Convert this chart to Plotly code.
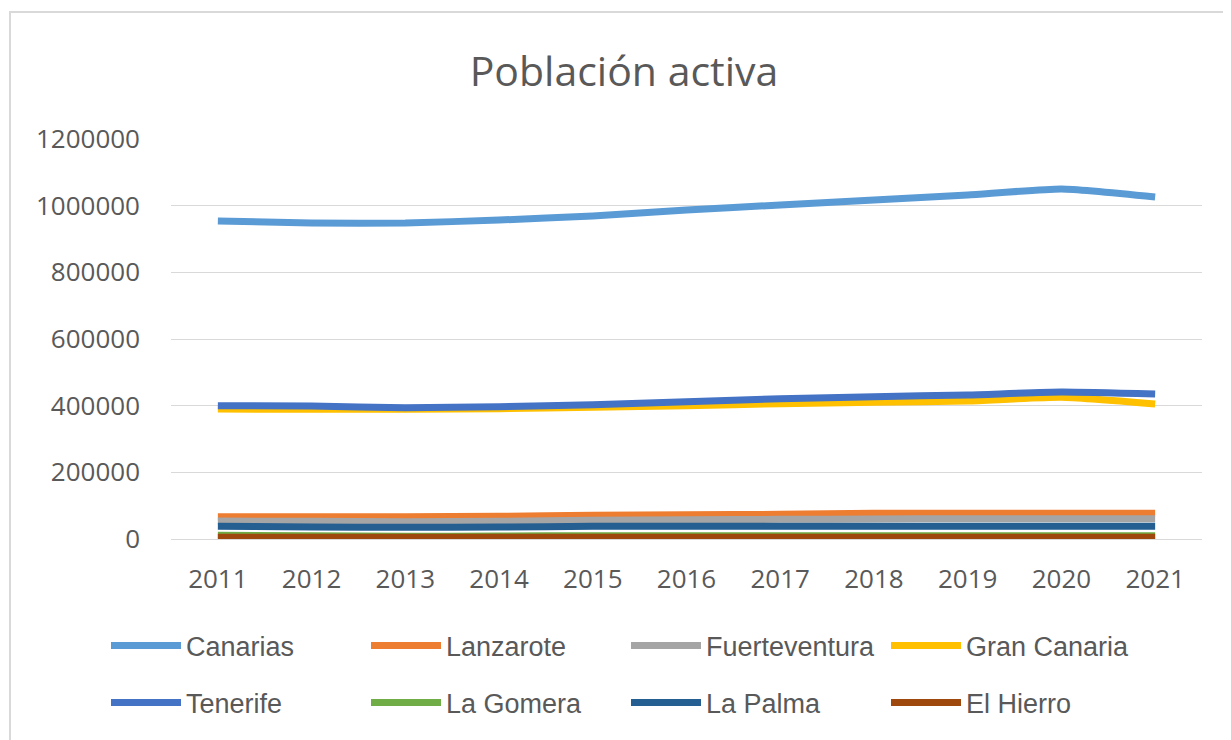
import plotly.graph_objects as go

years = ["2011", "2012", "2013", "2014", "2015", "2016", "2017", "2018", "2019", "2020", "2021"]
canarias = [954000, 948000, 948000, 957000, 969000, 987000, 1002000, 1017000, 1032000, 1050000, 1026000]
lanzarote = [67000, 67000, 67000, 68000, 71000, 73000, 74000, 77000, 77000, 77000, 77000]
fuerteventura = [54000, 53000, 52000, 53000, 56000, 58000, 59000, 60000, 61000, 61000, 61000]
gran_canaria = [390000, 389000, 389000, 391000, 395000, 400000, 406000, 410000, 414000, 425000, 405000]
tenerife = [400000, 399000, 394000, 397000, 403000, 412000, 421000, 427000, 432000, 441000, 435000]
la_gomera = [11000, 10000, 8000, 9000, 10000, 10000, 10000, 10000, 10000, 10000, 10000]
la_palma = [38000, 36000, 35000, 36000, 38000, 38000, 38000, 38000, 38000, 38000, 38000]
el_hierro = [5000, 5000, 5000, 5000, 5000, 5000, 5000, 5000, 5000, 5000, 5000]
y_ticks = [0, 200000, 400000, 600000, 800000, 1000000, 1200000]

series = [
    ("Canarias", canarias, "#5B9BD5", "legend"),
    ("Lanzarote", lanzarote, "#ED7D31", "legend"),
    ("Fuerteventura", fuerteventura, "#A5A5A5", "legend"),
    ("Gran Canaria", gran_canaria, "#FFC000", "legend"),
    ("Tenerife", tenerife, "#4472C4", "legend2"),
    ("La Gomera", la_gomera, "#70AD47", "legend2"),
    ("La Palma", la_palma, "#255E91", "legend2"),
    ("El Hierro", el_hierro, "#9E480E", "legend2"),
]

fig = go.Figure()
for name, vals, color, lg in series:
    fig.add_trace(go.Scatter(
        x=years, y=vals, name=name, mode="lines",
        line=dict(color=color, width=7, shape="spline", smoothing=0.5),
        legend=lg,
    ))

# page geometry (body has an 8px margin)
OFF = 8
PAGE_W, PAGE_H = 1231, 740
W, H = PAGE_W - OFF, PAGE_H - OFF
plot_left, plot_right, plot_top, plot_bottom = 171, 1202, 139, 539
L = plot_left - OFF
R = PAGE_W - plot_right
T = plot_top - OFF
B = PAGE_H - plot_bottom
pw, ph = plot_right - plot_left, plot_bottom - plot_top

def px_x(px):
    return (px - plot_left) / pw

def px_y(py):
    return (plot_bottom - py) / ph

tick_font = dict(family="Open Sans, Noto Sans, sans-serif", size=26, color="#595959")
legend_font = dict(family="Liberation Sans, Arial, sans-serif", size=27, color="#595959")
common_legend = dict(orientation="h", xanchor="left", yanchor="middle", font=legend_font,
                     entrywidth=175, entrywidthmode="pixels", itemwidth=70,
                     bgcolor="rgba(0,0,0,0)", tracegroupgap=0)

fig.update_layout(
    width=W, height=H,
    margin=dict(l=L, r=R, t=T, b=B),
    paper_bgcolor="white", plot_bgcolor="white",
    title=dict(text="Población activa", x=(624 - OFF) / W, xref="container", xanchor="center",
               y=1 - (72 - OFF) / H, yref="container", yanchor="middle",
               font=dict(family="Open Sans, Noto Sans, sans-serif", size=41, color="#595959")),
    xaxis=dict(type="category", range=[-0.5, 10.5], showgrid=False, zeroline=False,
               showline=False, ticks="", tickfont=tick_font, ticklabelstandoff=22),
    yaxis=dict(range=[0, 1200000], tickvals=y_ticks, ticktext=[str(v) for v in y_ticks],
               showgrid=True, gridcolor="#D9D9D9", gridwidth=1.3, zeroline=True, zerolinecolor="#D9D9D9",
               zerolinewidth=1.3, showline=False, ticks="", tickfont=tick_font,
               ticklabelstandoff=30),
    legend=dict(x=px_x(106), y=px_y(646), **common_legend),
    legend2=dict(x=px_x(106), y=px_y(703), **common_legend),
    showlegend=True,
    shapes=[dict(type="rect", xref="paper", yref="paper",
                 x0=px_x(10), x1=px_x(1260), y0=px_y(12), y1=px_y(780),
                 line=dict(color="#D9D9D9", width=2), fillcolor="rgba(0,0,0,0)", layer="below")],
)

fig.write_html("out.html")
